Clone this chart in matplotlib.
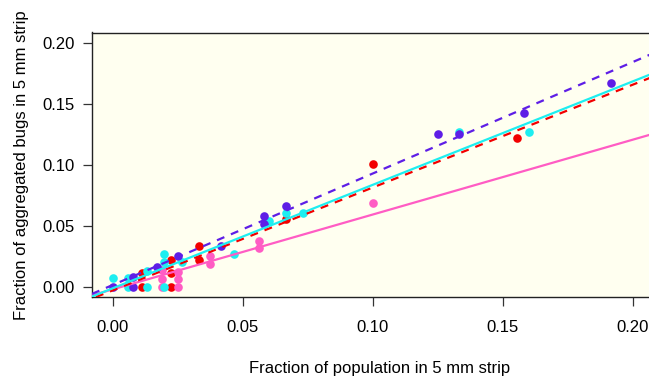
import matplotlib
matplotlib.use("Agg")
import matplotlib.pyplot as plt

plt.rcParams['font.family'] = ['Liberation Sans', 'DejaVu Sans']

# ---- data ----
purple_x = [0.0, 0.0079, 0.0079, 0.0169, 0.0250, 0.0417, 0.0583, 0.0583, 0.0667,
            0.1250, 0.1333, 0.1583, 0.1917]
purple_y = [0.0, 0.0082, 0.0, 0.0164, 0.0252, 0.0334, 0.0583, 0.0513, 0.0667,
            0.1255, 0.1255, 0.1425, 0.1676]

red_x = [0.0111, 0.0111, 0.0223, 0.0223, 0.0223, 0.0333, 0.0333, 0.0667, 0.1000, 0.1556]
red_y = [0.0115, 0.0, 0.0222, 0.0110, 0.0, 0.0333, 0.0222, 0.0556, 0.1006, 0.1225]

cyan_x = [0.0, 0.0060, 0.0060, 0.0133, 0.0133, 0.0199, 0.0197, 0.0197, 0.0265,
          0.0468, 0.0601, 0.0667, 0.0733, 0.1333, 0.1600]
cyan_y = [0.0069, 0.0069, 0.0, 0.0129, 0.0, 0.0266, 0.0200, 0.0, 0.0200,
          0.0266, 0.0540, 0.0603, 0.0603, 0.1274, 0.1270]

pink_x = [0.0188, 0.0188, 0.0188, 0.0252, 0.0252, 0.0252, 0.0374, 0.0374,
          0.0563, 0.0563, 0.1000]
pink_y = [0.0137, 0.0063, 0.0, 0.0123, 0.0063, 0.0, 0.0252, 0.0187,
          0.0378, 0.0315, 0.0690]

# fitted lines: (intercept, slope)
pink_fit = (-0.0022, 0.615)
red_fit = (-0.0030, 0.845)
cyan_fit = (-0.0013, 0.850)
purple_fit = (0.0014, 0.916)

x_ticks = [0.00, 0.05, 0.10, 0.15, 0.20]
y_ticks = [0.00, 0.05, 0.10, 0.15, 0.20]
x_label = "Fraction of population in 5 mm strip"
y_label = "Fraction of aggregated bugs in 5 mm strip"

# ---- styles ----
C_PURPLE = '#5E1EE6'
C_RED = '#F20000'
C_CYAN = '#1EEEF0'
C_PINK = '#FF5CC4'
BG = '#FFFFF0'

W, H = 649, 379
fig = plt.figure(figsize=(W / 100, H / 100), dpi=100)
left, right, top, bottom = 92, 668, 32.5, 297
ax = fig.add_axes([left / W, 1 - bottom / H, (right - left) / W, (bottom - top) / H])
ax.set_facecolor(BG)

ms = 6.2
for xs, ys, c in [(red_x, red_y, C_RED), (pink_x, pink_y, C_PINK),
                  (cyan_x, cyan_y, C_CYAN), (purple_x, purple_y, C_PURPLE)]:
    ax.plot(xs, ys, 'o', ms=ms, color=c, mec='none', zorder=2)

lw = 1.6
ax.axline((0, pink_fit[0]), slope=pink_fit[1], color=C_PINK, lw=lw, zorder=3)
ax.axline((0, red_fit[0]), slope=red_fit[1], color=C_RED, lw=lw, ls=(0, (3.6, 3.2)), zorder=3)
ax.axline((0, cyan_fit[0]), slope=cyan_fit[1], color=C_CYAN, lw=lw, zorder=3)
ax.axline((0, purple_fit[0]), slope=purple_fit[1], color=C_PURPLE, lw=lw, ls=(0, (3.6, 3.2)), zorder=3)

ax.set_xlim(-0.00796, 0.21358)
ax.set_ylim(-0.00846, 0.2089)
ax.set_xticks(x_ticks)
ax.set_xticklabels([f"{v:.2f}" for v in x_ticks])
ax.set_yticks(y_ticks)
ax.set_yticklabels([f"{v:.2f}" for v in y_ticks])
ax.tick_params(axis='both', direction='out', length=6.5, width=0.9, labelsize=12,
               color='#333333')
ax.tick_params(axis='x', pad=10)
ax.tick_params(axis='y', pad=6)
for s in ax.spines.values():
    s.set_linewidth(1.0)
    s.set_color('#222222')

fig.text(380 / W, 1 - 368 / H, x_label, ha='center', va='center', fontsize=12)
fig.text(22 / W, 1 - 165 / H, y_label, ha='center', va='center', fontsize=12, rotation=90)

fig.savefig('out.png', dpi=100, facecolor='white')
